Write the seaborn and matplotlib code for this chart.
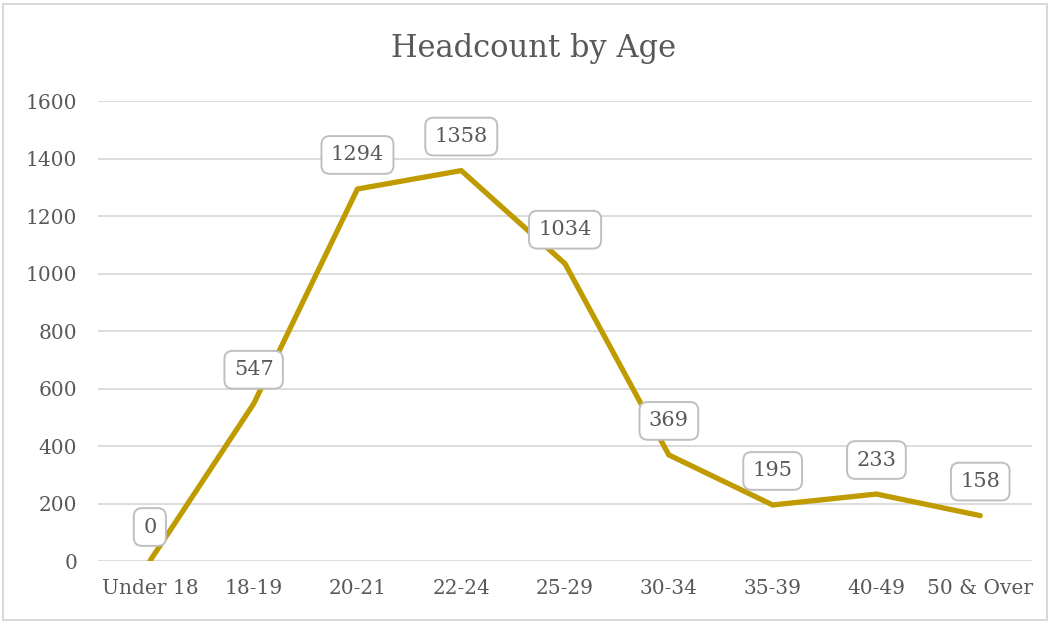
import matplotlib
matplotlib.use("Agg")
import matplotlib.pyplot as plt
from matplotlib.patches import Rectangle
import seaborn as sns
import pandas as pd

# chart data
age_groups = ["Under 18", "18-19", "20-21", "22-24", "25-29", "30-34", "35-39", "40-49", "50 & Over"]
headcount = [0, 547, 1294, 1358, 1034, 369, 195, 233, 158]
y_ticks = [0, 200, 400, 600, 800, 1000, 1200, 1400, 1600]

TEXT = "#595959"
GRID = "#D9D9D9"
LINE = "#BF9B00"

sns.set_theme(style="white")
plt.rcParams['font.family'] = ['DejaVu Serif']

df = pd.DataFrame({"age": age_groups, "count": headcount})

fig = plt.figure(figsize=(10.5, 6.22), dpi=100)
ax = fig.add_axes([0.0933, 0.098, 0.8897, 0.7396])

sns.lineplot(data=df, x="age", y="count", color=LINE, linewidth=3.8,
             solid_capstyle="round", ax=ax)

# data labels in rounded boxes
for i, v in enumerate(headcount):
    ax.annotate(str(v), (i, v), xytext=(0, 24.5), textcoords="offset points",
                ha="center", va="center", fontsize=15, color=TEXT,
                bbox=dict(boxstyle="round,pad=0.45,rounding_size=0.4",
                          fc="white", ec="#BFBFBF", lw=1.4))

ax.set_xlim(-0.5, len(age_groups) - 0.5)
ax.set_ylim(0, 1600)
ax.set_yticks(y_ticks)
ax.set_yticklabels([str(t) for t in y_ticks])
ax.set_xlabel("")
ax.set_ylabel("")
ax.grid(axis="y", color=GRID, linewidth=1.3)
ax.set_axisbelow(True)
for s in ax.spines.values():
    s.set_visible(False)
ax.tick_params(axis="both", length=0, labelsize=14.5, labelcolor=TEXT)
ax.tick_params(axis="y", pad=15)
ax.tick_params(axis="x", pad=13)

fig.text(0.5085, 0.922, "Headcount by Age", ha="center", va="center",
         fontsize=22, color=TEXT)

# outer chart border
fig.patches.append(Rectangle((0.003, 0.004), 0.994, 0.99, transform=fig.transFigure,
                             fill=False, ec=GRID, lw=1.5))

fig.savefig("out.png", dpi=100)
